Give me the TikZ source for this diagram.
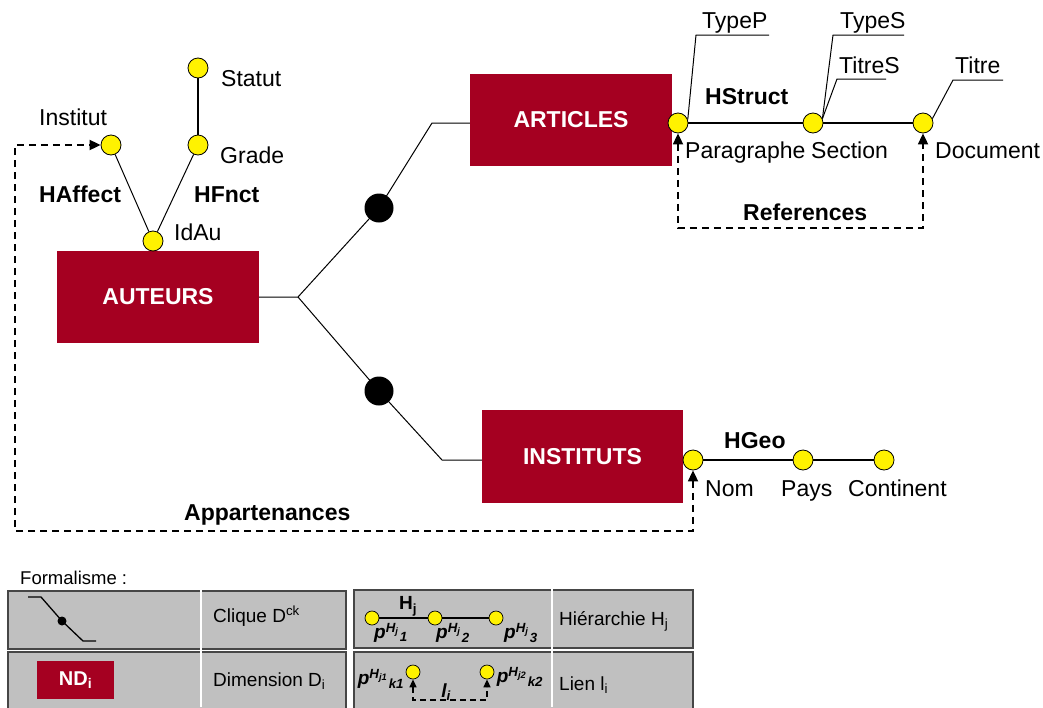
\documentclass[tikz,border=0pt]{standalone}
\usepackage{fontspec}
\setmainfont{Liberation Sans}
\usetikzlibrary{arrows.meta}
\definecolor{dred}{RGB}{165,0,33}
\definecolor{cellgray}{RGB}{192,192,192}
\definecolor{celledge}{RGB}{70,70,70}
\newcommand{\plab}[3]{\bfseries\itshape p\textsuperscript{H\textsubscript{#1}}\kern1pt\textsubscript{#2}}
\begin{document}
\begin{tikzpicture}[x=1pt,y=-1pt,
  lbl/.style={inner sep=0pt, anchor=base west, font=\fontsize{23}{26}\selectfont},
  blbl/.style={inner sep=0pt, anchor=base west, font=\fontsize{23}{26}\selectfont\bfseries},
  leg/.style={inner sep=0pt, anchor=base west, font=\fontsize{19}{22}\selectfont},
  mlbl/.style={inner sep=0pt, font=\fontsize{19}{22}\selectfont},
  dim/.style={fill=dred, minimum width=202pt, minimum height=92pt, inner sep=0pt, text=white, font=\fontsize{23}{26}\selectfont\bfseries},
  attr/.style={circle, fill=yellow, draw=black, line width=0.8pt, minimum size=20pt, inner sep=0pt},
  sattr/.style={circle, fill=yellow, draw=black, line width=0.7pt, minimum size=14pt, inner sep=0pt},
  clq/.style={circle, fill=black, minimum size=29pt, inner sep=0pt},
  branch/.style={line width=1pt},
  hier/.style={line width=2.3pt},
  link/.style={line width=1.8pt, dash pattern=on 7pt off 5pt, {Triangle[length=11pt,width=10pt]}-{Triangle[length=11pt,width=10pt]}},
  slink/.style={line width=1.4pt, dash pattern=on 6pt off 4pt, {Triangle[length=8pt,width=7pt]}-{Triangle[length=8pt,width=7pt]}},
  cell/.style={fill=cellgray, draw=celledge, line width=1.5pt},
  sep/.style={draw=white, line width=2pt}]
\clip (0,0) rectangle (1043,707);
\fill[white] (0,0) rectangle (1043,707);

% dimensions
\node[dim] (aut) at (158,297) {AUTEURS};
\node[dim] (art) at (571,120) {ARTICLES};
\node[dim, minimum width=201pt, minimum height=93pt] (ins) at (582.5,456.5) {INSTITUTS};

% clique
\coordinate (J) at (298,297);
\coordinate (U) at (432,123);
\coordinate (L) at (442,460);
\node[clq] (c1) at (379,208) {};
\node[clq] (c2) at (379,391) {};
\draw[branch] (aut.east) -- (J) -- (c1.center) -- (U) -- (U -| art.west);
\draw[branch] (J) -- (c2.center) -- (L) -- (L -| ins.west);

% AUTEURS hierarchies
\node[attr] (idau) at (153,241) {};
\node[attr] (inst) at (111,145) {};
\node[attr] (grade) at (198,145) {};
\node[attr] (statut) at (198,68) {};
\draw[branch] (idau) -- (inst);
\draw[branch] (idau) -- (grade);
\draw[hier] (grade) -- (statut);
\node[lbl] (tstatut) at (221,86) {Statut};
\node[lbl] (tinst) at (39,125) {Institut};
\node[lbl] (tgrade) at (220,163) {Grade};
\node[blbl] (thaff) at (39,202) {HAffect};
\node[blbl] (thfn) at (194,202) {HFnct};
\node[lbl] (tidau) at (174,240) {IdAu};

% ARTICLES hierarchy
\node[attr] (par) at (678,123) {};
\node[attr] (sec) at (813,123) {};
\node[attr] (doc) at (923,123) {};
\draw[hier] (par) -- (sec);
\draw[hier] (sec) -- (doc);
\node[blbl] (thstr) at (705,104) {HStruct};
\node[lbl] (tpar) at (685,158) {Paragraphe};
\node[lbl] (tsec) at (811,158) {Section};
\node[lbl] (tdoc) at (935,158) {Document};
% callouts
\coordinate (tp1) at (696,35); \coordinate (tp2) at (769,35);
\coordinate (ts1) at (833,35); \coordinate (ts2) at (904,35);
\coordinate (tt1) at (837,79); \coordinate (tt2) at (886,79);
\coordinate (ti1) at (953,80); \coordinate (ti2) at (1003,80);
\draw[branch] (par.20) -- (tp1) -- (tp2);
\draw[branch] (sec.25) -- (ts1) -- (ts2);
\draw[branch] (sec.25) -- (tt1) -- (tt2);
\draw[branch] (doc.25) -- (ti1) -- (ti2);
\node[lbl] (ttypep) at (702,28) {TypeP};
\node[lbl] (ttypes) at (840,28) {TypeS};
\node[lbl] (ttitres) at (839,73) {TitreS};
\node[lbl] (ttitre) at (955,73) {Titre};
% references
\coordinate (refy) at (0,228);
\draw[link] (par.south) -- (par.south |- refy) -| (doc.south);
\node[blbl] (tref) at (743,220) {References};

% INSTITUTS hierarchy
\node[attr] (nom) at (693,460) {};
\node[attr] (pays) at (803,460) {};
\node[attr] (cont) at (884,460) {};
\draw[hier] (nom) -- (pays);
\draw[hier] (pays) -- (cont);
\node[blbl] (thgeo) at (724,448) {HGeo};
\node[lbl] (tnom) at (705,496) {Nom};
\node[lbl] (tpays) at (781,496) {Pays};
\node[lbl] (tcont) at (848,496) {Continent};

% appartenances
\coordinate (abl) at (15,531);
\draw[link] (nom.south) |- (abl) |- (inst.west);
\node[blbl] (tapp) at (184,520) {Appartenances};

% legend
\node[inner sep=0pt, anchor=base west, font=\fontsize{18.5}{20}\selectfont] (tform) at (20,584) {Formalisme :};
\draw[cell] (8,591) rectangle (346,649);
\draw[cell] (8,652) rectangle (346,720);
\draw[cell] (354,590) rectangle (693,648);
\draw[cell] (354,652) rectangle (693,720);
\draw[sep] (201,590) -- (201,707);
\draw[sep] (552,589) -- (552,707);

% clique icon
\node[circle, fill=black, minimum size=9pt, inner sep=0pt] (ldot) at (62,621) {};
\coordinate (lc1) at (28,597); \coordinate (lc2) at (41,597);
\coordinate (lc3) at (83,641); \coordinate (lc4) at (96,641);
\draw[line width=1.3pt] (lc1) -- (lc2) -- (ldot.center) -- (lc3) -- (lc4);
\node[leg] (tcliq) at (213,622) {Clique D\textsuperscript{ck}};

% dimension icon
\node[fill=dred, minimum width=77pt, minimum height=38pt, inner sep=0pt, text=white, font=\fontsize{20}{24}\selectfont\bfseries] (lnd) at (75.5,680) {ND\textsubscript{i}};
\node[leg] (tdim) at (213,686) {Dimension D\textsubscript{i}};

% hierarchy icon
\node[sattr] (lh1) at (372,618) {};
\node[sattr] (lh2) at (435,618) {};
\node[sattr] (lh3) at (496,618) {};
\draw[line width=1.6pt] (lh1) -- (lh2) -- (lh3);
\node[mlbl] (lhj) at (408,606) {\bfseries H\textsubscript{j}};
\node[mlbl] (lp1) at (391,633) {\plab{j}{1}{}};
\node[mlbl] (lp2) at (453,633) {\plab{j}{2}{}};
\node[mlbl] (lp3) at (521,633) {\plab{j}{3}{}};
\node[leg] (thier) at (559,625) {Hiérarchie H\textsubscript{j}};

% link icon
\node[sattr] (ll1) at (413,672) {};
\node[sattr] (ll2) at (487,672) {};
\coordinate (lly) at (0,700);
\draw[slink] (ll1.south) -- (ll1.south |- lly) -| (ll2.south);
\node[mlbl] (lq1) at (381,679) {\plab{j1}{k1}{}};
\node[mlbl] (lq2) at (520,677) {\plab{j2}{k2}{}};
\node[mlbl] (lli) at (446,692) {\bfseries\itshape l\textsubscript{i}};
\node[leg] (tlien) at (559,690) {Lien l\textsubscript{i}};
\end{tikzpicture}
\end{document}
